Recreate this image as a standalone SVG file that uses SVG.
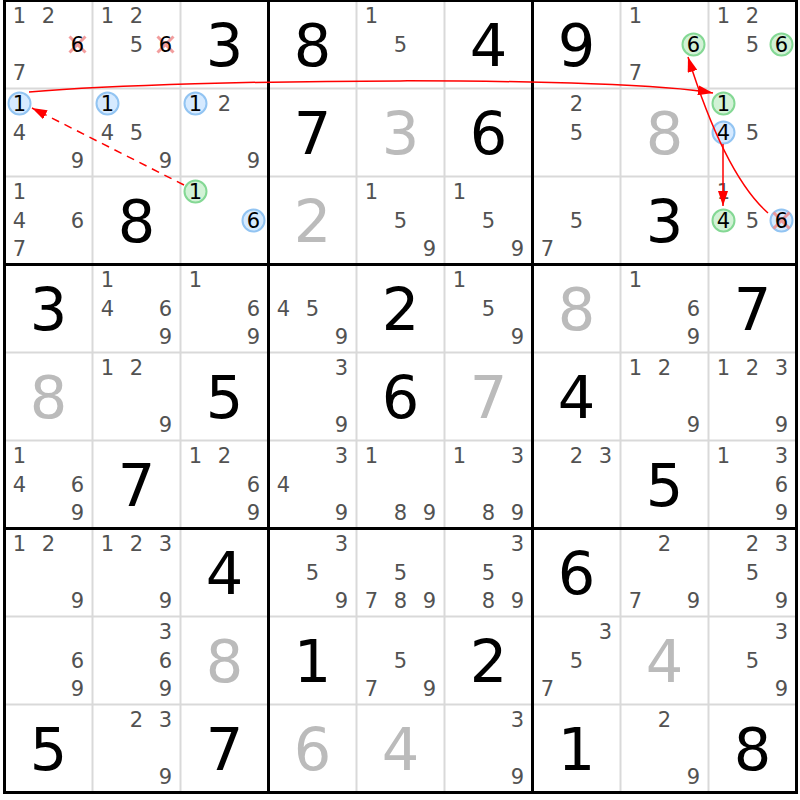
<svg xmlns="http://www.w3.org/2000/svg" width="800" height="800" viewBox="0 0 800 800">
<style>
.c{font-family:"DejaVu Sans",sans-serif;font-size:21px;fill:#525252;text-anchor:middle}
.k{fill:#000}
.b{font-family:"DejaVu Sans",sans-serif;font-size:59px;fill:#000;text-anchor:middle}
.g{fill:#bbb}
.cb{fill:#d6eaff;stroke:#92c4f2;stroke-width:2}
.cg{fill:#d2f2d6;stroke:#84d894;stroke-width:2}
.x{stroke:#f08c8c;stroke-width:3;stroke-opacity:0.85}
.thin{stroke:#d9d9d9;stroke-width:2}
.thick{stroke:#000;stroke-width:3}
.ln{fill:none;stroke:#f00;stroke-width:1.5}
</style>
<defs>
<marker id="ah" markerUnits="userSpaceOnUse" viewBox="0 0 15 10" markerWidth="15" markerHeight="10" refX="15" refY="5" orient="auto"><path d="M0,0 L15,5 L0,10 z" fill="#f00"/></marker>
</defs>
<rect x="0" y="0" width="800" height="800" fill="#fff"/>
<g id="grid">
<path class="thin" d="M92.5,0.5V792.5M180.5,0.5V792.5M356.5,0.5V792.5M444.5,0.5V792.5M620.5,0.5V792.5M708.5,0.5V792.5M4.5,88.5H796.5M4.5,176.5H796.5M4.5,352.5H796.5M4.5,440.5H796.5M4.5,616.5H796.5M4.5,704.5H796.5"/>
<path class="thick" d="M268.5,0.5V792.5M532.5,0.5V792.5M4.5,264.5H796.5M4.5,528.5H796.5"/>
<rect x="4.5" y="0.5" width="792" height="792" fill="none" stroke="#000" stroke-width="3"/>
</g>
<g id="r1c1" transform="translate(4.5,0.5)"><text class="c" x="15" y="22.5">1</text><text class="c" x="44" y="22.5">2</text><path class="x" d="M65,36L81,52M81,36L65,52"/><text class="c k" x="73" y="51.5">6</text><text class="c" x="15" y="79.5">7</text></g>
<g id="r1c2" transform="translate(92.5,0.5)"><text class="c" x="15" y="22.5">1</text><text class="c" x="44" y="22.5">2</text><text class="c" x="44" y="51.5">5</text><path class="x" d="M65,36L81,52M81,36L65,52"/><text class="c k" x="73" y="51.5">6</text></g>
<g id="r1c3" transform="translate(180.5,0.5)"><text class="b" x="44" y="65.5">3</text></g>
<g id="r1c4" transform="translate(268.5,0.5)"><text class="b" x="44" y="65.5">8</text></g>
<g id="r1c5" transform="translate(356.5,0.5)"><text class="c" x="15" y="22.5">1</text><text class="c" x="44" y="51.5">5</text></g>
<g id="r1c6" transform="translate(444.5,0.5)"><text class="b" x="44" y="65.5">4</text></g>
<g id="r1c7" transform="translate(532.5,0.5)"><text class="b" x="44" y="65.5">9</text></g>
<g id="r1c8" transform="translate(620.5,0.5)"><text class="c" x="15" y="22.5">1</text><circle class="cg" cx="73" cy="44" r="11"/><text class="c k" x="73" y="51.5">6</text><text class="c" x="15" y="79.5">7</text></g>
<g id="r1c9" transform="translate(708.5,0.5)"><text class="c" x="15" y="22.5">1</text><text class="c" x="44" y="22.5">2</text><text class="c" x="44" y="51.5">5</text><circle class="cg" cx="73" cy="44" r="11"/><text class="c k" x="73" y="51.5">6</text></g>
<g id="r2c1" transform="translate(4.5,88.5)"><circle class="cb" cx="15" cy="15" r="11"/><text class="c k" x="15" y="22.5">1</text><text class="c" x="15" y="51.5">4</text><text class="c" x="73" y="79.5">9</text></g>
<g id="r2c2" transform="translate(92.5,88.5)"><circle class="cb" cx="15" cy="15" r="11"/><text class="c k" x="15" y="22.5">1</text><text class="c" x="15" y="51.5">4</text><text class="c" x="44" y="51.5">5</text><text class="c" x="73" y="79.5">9</text></g>
<g id="r2c3" transform="translate(180.5,88.5)"><circle class="cb" cx="15" cy="15" r="11"/><text class="c k" x="15" y="22.5">1</text><text class="c" x="44" y="22.5">2</text><text class="c" x="73" y="79.5">9</text></g>
<g id="r2c4" transform="translate(268.5,88.5)"><text class="b" x="44" y="65.5">7</text></g>
<g id="r2c5" transform="translate(356.5,88.5)"><text class="b g" x="44" y="65.5">3</text></g>
<g id="r2c6" transform="translate(444.5,88.5)"><text class="b" x="44" y="65.5">6</text></g>
<g id="r2c7" transform="translate(532.5,88.5)"><text class="c" x="44" y="22.5">2</text><text class="c" x="44" y="51.5">5</text></g>
<g id="r2c8" transform="translate(620.5,88.5)"><text class="b g" x="44" y="65.5">8</text></g>
<g id="r2c9" transform="translate(708.5,88.5)"><circle class="cg" cx="15" cy="15" r="11"/><text class="c k" x="15" y="22.5">1</text><circle class="cb" cx="15" cy="44" r="11"/><text class="c k" x="15" y="51.5">4</text><text class="c" x="44" y="51.5">5</text></g>
<g id="r3c1" transform="translate(4.5,176.5)"><text class="c" x="15" y="22.5">1</text><text class="c" x="15" y="51.5">4</text><text class="c" x="73" y="51.5">6</text><text class="c" x="15" y="79.5">7</text></g>
<g id="r3c2" transform="translate(92.5,176.5)"><text class="b" x="44" y="65.5">8</text></g>
<g id="r3c3" transform="translate(180.5,176.5)"><circle class="cg" cx="15" cy="15" r="11"/><text class="c k" x="15" y="22.5">1</text><circle class="cb" cx="73" cy="44" r="11"/><text class="c k" x="73" y="51.5">6</text></g>
<g id="r3c4" transform="translate(268.5,176.5)"><text class="b g" x="44" y="65.5">2</text></g>
<g id="r3c5" transform="translate(356.5,176.5)"><text class="c" x="15" y="22.5">1</text><text class="c" x="44" y="51.5">5</text><text class="c" x="73" y="79.5">9</text></g>
<g id="r3c6" transform="translate(444.5,176.5)"><text class="c" x="15" y="22.5">1</text><text class="c" x="44" y="51.5">5</text><text class="c" x="73" y="79.5">9</text></g>
<g id="r3c7" transform="translate(532.5,176.5)"><text class="c" x="44" y="51.5">5</text><text class="c" x="15" y="79.5">7</text></g>
<g id="r3c8" transform="translate(620.5,176.5)"><text class="b" x="44" y="65.5">3</text></g>
<g id="r3c9" transform="translate(708.5,176.5)"><text class="c" x="15" y="22.5">1</text><circle class="cg" cx="15" cy="44" r="11"/><text class="c k" x="15" y="51.5">4</text><text class="c" x="44" y="51.5">5</text><circle class="cb" cx="73" cy="44" r="11"/><path class="x" d="M65,36L81,52M81,36L65,52"/><text class="c k" x="73" y="51.5">6</text></g>
<g id="r4c1" transform="translate(4.5,264.5)"><text class="b" x="44" y="65.5">3</text></g>
<g id="r4c2" transform="translate(92.5,264.5)"><text class="c" x="15" y="22.5">1</text><text class="c" x="15" y="51.5">4</text><text class="c" x="73" y="51.5">6</text><text class="c" x="73" y="79.5">9</text></g>
<g id="r4c3" transform="translate(180.5,264.5)"><text class="c" x="15" y="22.5">1</text><text class="c" x="73" y="51.5">6</text><text class="c" x="73" y="79.5">9</text></g>
<g id="r4c4" transform="translate(268.5,264.5)"><text class="c" x="15" y="51.5">4</text><text class="c" x="44" y="51.5">5</text><text class="c" x="73" y="79.5">9</text></g>
<g id="r4c5" transform="translate(356.5,264.5)"><text class="b" x="44" y="65.5">2</text></g>
<g id="r4c6" transform="translate(444.5,264.5)"><text class="c" x="15" y="22.5">1</text><text class="c" x="44" y="51.5">5</text><text class="c" x="73" y="79.5">9</text></g>
<g id="r4c7" transform="translate(532.5,264.5)"><text class="b g" x="44" y="65.5">8</text></g>
<g id="r4c8" transform="translate(620.5,264.5)"><text class="c" x="15" y="22.5">1</text><text class="c" x="73" y="51.5">6</text><text class="c" x="73" y="79.5">9</text></g>
<g id="r4c9" transform="translate(708.5,264.5)"><text class="b" x="44" y="65.5">7</text></g>
<g id="r5c1" transform="translate(4.5,352.5)"><text class="b g" x="44" y="65.5">8</text></g>
<g id="r5c2" transform="translate(92.5,352.5)"><text class="c" x="15" y="22.5">1</text><text class="c" x="44" y="22.5">2</text><text class="c" x="73" y="79.5">9</text></g>
<g id="r5c3" transform="translate(180.5,352.5)"><text class="b" x="44" y="65.5">5</text></g>
<g id="r5c4" transform="translate(268.5,352.5)"><text class="c" x="73" y="22.5">3</text><text class="c" x="73" y="79.5">9</text></g>
<g id="r5c5" transform="translate(356.5,352.5)"><text class="b" x="44" y="65.5">6</text></g>
<g id="r5c6" transform="translate(444.5,352.5)"><text class="b g" x="44" y="65.5">7</text></g>
<g id="r5c7" transform="translate(532.5,352.5)"><text class="b" x="44" y="65.5">4</text></g>
<g id="r5c8" transform="translate(620.5,352.5)"><text class="c" x="15" y="22.5">1</text><text class="c" x="44" y="22.5">2</text><text class="c" x="73" y="79.5">9</text></g>
<g id="r5c9" transform="translate(708.5,352.5)"><text class="c" x="15" y="22.5">1</text><text class="c" x="44" y="22.5">2</text><text class="c" x="73" y="22.5">3</text><text class="c" x="73" y="79.5">9</text></g>
<g id="r6c1" transform="translate(4.5,440.5)"><text class="c" x="15" y="22.5">1</text><text class="c" x="15" y="51.5">4</text><text class="c" x="73" y="51.5">6</text><text class="c" x="73" y="79.5">9</text></g>
<g id="r6c2" transform="translate(92.5,440.5)"><text class="b" x="44" y="65.5">7</text></g>
<g id="r6c3" transform="translate(180.5,440.5)"><text class="c" x="15" y="22.5">1</text><text class="c" x="44" y="22.5">2</text><text class="c" x="73" y="51.5">6</text><text class="c" x="73" y="79.5">9</text></g>
<g id="r6c4" transform="translate(268.5,440.5)"><text class="c" x="73" y="22.5">3</text><text class="c" x="15" y="51.5">4</text><text class="c" x="73" y="79.5">9</text></g>
<g id="r6c5" transform="translate(356.5,440.5)"><text class="c" x="15" y="22.5">1</text><text class="c" x="44" y="79.5">8</text><text class="c" x="73" y="79.5">9</text></g>
<g id="r6c6" transform="translate(444.5,440.5)"><text class="c" x="15" y="22.5">1</text><text class="c" x="73" y="22.5">3</text><text class="c" x="44" y="79.5">8</text><text class="c" x="73" y="79.5">9</text></g>
<g id="r6c7" transform="translate(532.5,440.5)"><text class="c" x="44" y="22.5">2</text><text class="c" x="73" y="22.5">3</text></g>
<g id="r6c8" transform="translate(620.5,440.5)"><text class="b" x="44" y="65.5">5</text></g>
<g id="r6c9" transform="translate(708.5,440.5)"><text class="c" x="15" y="22.5">1</text><text class="c" x="73" y="22.5">3</text><text class="c" x="73" y="51.5">6</text><text class="c" x="73" y="79.5">9</text></g>
<g id="r7c1" transform="translate(4.5,528.5)"><text class="c" x="15" y="22.5">1</text><text class="c" x="44" y="22.5">2</text><text class="c" x="73" y="79.5">9</text></g>
<g id="r7c2" transform="translate(92.5,528.5)"><text class="c" x="15" y="22.5">1</text><text class="c" x="44" y="22.5">2</text><text class="c" x="73" y="22.5">3</text><text class="c" x="73" y="79.5">9</text></g>
<g id="r7c3" transform="translate(180.5,528.5)"><text class="b" x="44" y="65.5">4</text></g>
<g id="r7c4" transform="translate(268.5,528.5)"><text class="c" x="73" y="22.5">3</text><text class="c" x="44" y="51.5">5</text><text class="c" x="73" y="79.5">9</text></g>
<g id="r7c5" transform="translate(356.5,528.5)"><text class="c" x="44" y="51.5">5</text><text class="c" x="15" y="79.5">7</text><text class="c" x="44" y="79.5">8</text><text class="c" x="73" y="79.5">9</text></g>
<g id="r7c6" transform="translate(444.5,528.5)"><text class="c" x="73" y="22.5">3</text><text class="c" x="44" y="51.5">5</text><text class="c" x="44" y="79.5">8</text><text class="c" x="73" y="79.5">9</text></g>
<g id="r7c7" transform="translate(532.5,528.5)"><text class="b" x="44" y="65.5">6</text></g>
<g id="r7c8" transform="translate(620.5,528.5)"><text class="c" x="44" y="22.5">2</text><text class="c" x="15" y="79.5">7</text><text class="c" x="73" y="79.5">9</text></g>
<g id="r7c9" transform="translate(708.5,528.5)"><text class="c" x="44" y="22.5">2</text><text class="c" x="73" y="22.5">3</text><text class="c" x="44" y="51.5">5</text><text class="c" x="73" y="79.5">9</text></g>
<g id="r8c1" transform="translate(4.5,616.5)"><text class="c" x="73" y="51.5">6</text><text class="c" x="73" y="79.5">9</text></g>
<g id="r8c2" transform="translate(92.5,616.5)"><text class="c" x="73" y="22.5">3</text><text class="c" x="73" y="51.5">6</text><text class="c" x="73" y="79.5">9</text></g>
<g id="r8c3" transform="translate(180.5,616.5)"><text class="b g" x="44" y="65.5">8</text></g>
<g id="r8c4" transform="translate(268.5,616.5)"><text class="b" x="44" y="65.5">1</text></g>
<g id="r8c5" transform="translate(356.5,616.5)"><text class="c" x="44" y="51.5">5</text><text class="c" x="15" y="79.5">7</text><text class="c" x="73" y="79.5">9</text></g>
<g id="r8c6" transform="translate(444.5,616.5)"><text class="b" x="44" y="65.5">2</text></g>
<g id="r8c7" transform="translate(532.5,616.5)"><text class="c" x="73" y="22.5">3</text><text class="c" x="44" y="51.5">5</text><text class="c" x="15" y="79.5">7</text></g>
<g id="r8c8" transform="translate(620.5,616.5)"><text class="b g" x="44" y="65.5">4</text></g>
<g id="r8c9" transform="translate(708.5,616.5)"><text class="c" x="73" y="22.5">3</text><text class="c" x="44" y="51.5">5</text><text class="c" x="73" y="79.5">9</text></g>
<g id="r9c1" transform="translate(4.5,704.5)"><text class="b" x="44" y="65.5">5</text></g>
<g id="r9c2" transform="translate(92.5,704.5)"><text class="c" x="44" y="22.5">2</text><text class="c" x="73" y="22.5">3</text><text class="c" x="73" y="79.5">9</text></g>
<g id="r9c3" transform="translate(180.5,704.5)"><text class="b" x="44" y="65.5">7</text></g>
<g id="r9c4" transform="translate(268.5,704.5)"><text class="b g" x="44" y="65.5">6</text></g>
<g id="r9c5" transform="translate(356.5,704.5)"><text class="b g" x="44" y="65.5">4</text></g>
<g id="r9c6" transform="translate(444.5,704.5)"><text class="c" x="73" y="22.5">3</text><text class="c" x="73" y="79.5">9</text></g>
<g id="r9c7" transform="translate(532.5,704.5)"><text class="b" x="44" y="65.5">1</text></g>
<g id="r9c8" transform="translate(620.5,704.5)"><text class="c" x="44" y="22.5">2</text><text class="c" x="73" y="79.5">9</text></g>
<g id="r9c9" transform="translate(708.5,704.5)"><text class="b" x="44" y="65.5">8</text></g>
<g id="connectors">
<path class="ln" d="M29,92 C200,78 620,76 713,93" marker-end="url(#ah)"/>
<path class="ln" d="M184,185 L32,108" stroke-dasharray="8,6" marker-end="url(#ah)"/>
<path class="ln" d="M723,144 L723,206" marker-end="url(#ah)"/>
<path class="ln" d="M768,213 Q725,175 688,57" marker-end="url(#ah)"/>
</g>
</svg>
